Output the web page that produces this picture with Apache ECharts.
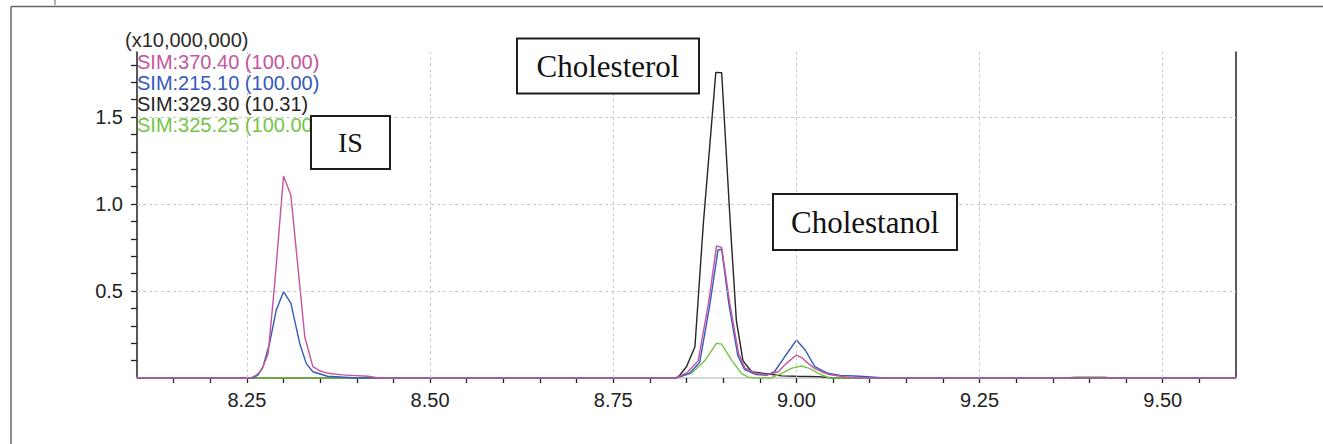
<!DOCTYPE html>
<html>
<head>
<meta charset="utf-8">
<script src="https://cdn.jsdelivr.net/npm/echarts@6/dist/echarts.min.js"></script>
<style>
  html, body { margin: 0; padding: 0; background: #fff; }
  #chart { width: 1323px; height: 444px; }
</style>
</head>
<body>
<div id="chart"></div>
<script>
// retention time (min) and intensity (x10,000,000)
const pinkX = [8.10, 8.255, 8.263, 8.270, 8.279, 8.288, 8.300, 8.310, 8.329, 8.340, 8.350, 8.361, 8.380, 8.415, 8.43,
  8.835, 8.841, 8.852, 8.866, 8.880, 8.891, 8.898, 8.909, 8.921, 8.930, 8.948, 8.962, 8.975, 8.988, 9.000, 9.008, 9.016, 9.025, 9.034, 9.045, 9.06, 9.08, 9.60];
const pinkY = [0, 0, 0.017, 0.046, 0.14, 0.544, 1.161, 1.05, 0.237, 0.065, 0.04, 0.027, 0.018, 0.01, 0,
  0, 0.01, 0.036, 0.10, 0.43, 0.759, 0.751, 0.43, 0.142, 0.056, 0.023, 0.02, 0.036, 0.09, 0.132, 0.115, 0.084, 0.055, 0.036, 0.02, 0.01, 0, 0];

const blueX = [8.10, 8.258, 8.265, 8.272, 8.281, 8.290, 8.300, 8.310, 8.322, 8.331, 8.340, 8.360, 8.40,
  8.835, 8.843, 8.855, 8.868, 8.881, 8.893, 8.898, 8.908, 8.920, 8.929, 8.945, 8.960, 8.970, 8.984, 9.000, 9.012, 9.025, 9.043, 9.060, 9.087, 9.12, 9.60];
const blueY = [0, 0, 0.017, 0.065, 0.20, 0.39, 0.496, 0.43, 0.20, 0.084, 0.036, 0.01, 0,
  0, 0.01, 0.03, 0.09, 0.40, 0.736, 0.74, 0.42, 0.13, 0.05, 0.02, 0.016, 0.036, 0.122, 0.218, 0.161, 0.065, 0.027, 0.015, 0.01, 0, 0];

const blackX = [8.10, 8.836, 8.841, 8.850, 8.8615, 8.873, 8.890, 8.898, 8.910, 8.918, 8.927, 8.939, 8.962, 8.98, 9.00, 9.03, 9.05, 9.60];
const blackY = [0, 0, 0.017, 0.065, 0.18, 0.889, 1.757, 1.755, 0.87, 0.333, 0.10, 0.036, 0.023, 0.012, 0.01, 0.008, 0, 0];

const greenX = [8.10, 8.836, 8.839, 8.857, 8.875, 8.891, 8.898, 8.912, 8.925, 8.934, 8.945,
  8.965, 8.980, 8.993, 9.007, 9.018, 9.030, 9.045, 9.37, 9.38, 9.42, 9.43, 9.60];
const greenY = [0, 0, 0.007, 0.027, 0.10, 0.20, 0.195, 0.10, 0.027, 0.005, 0,
  0, 0.027, 0.055, 0.069, 0.055, 0.027, 0, 0, 0.006, 0.006, 0, 0];

const seriesNames = ['SIM:370.40 (100.00)', 'SIM:215.10 (100.00)', 'SIM:329.30 (10.31)', 'SIM:325.25 (100.00)'];
const seriesColors = ['#c4559e', '#3559bd', '#262626', '#74c446'];
const xGridTicks = [8.25, 8.50, 8.75, 9.00, 9.25, 9.50];
const yGridTicks = [0.5, 1.0, 1.5];
const peakLabels = ['IS', 'Cholesterol', 'Cholestanol'];

const pairs = (xs, ys) => xs.map((x, i) => [x, ys[i]]);

const chart = echarts.init(document.getElementById('chart'), null, { renderer: 'svg' });

const sansFont = '"Liberation Sans", Arial, sans-serif';
const serifFont = '"Liberation Serif", "Times New Roman", serif';

const lineSeries = (name, data, color, extra) => Object.assign({
  name: name,
  type: 'line',
  data: data,
  showSymbol: false,
  symbol: 'none',
  animation: false,
  lineStyle: { color: color, width: 1.4 },
  itemStyle: { color: color },
  clip: false
}, extra || {});

const gridLines = {
  silent: true,
  symbol: 'none',
  animation: false,
  label: { show: false },
  lineStyle: { color: '#c9c9c9', type: [3, 3], width: 1 },
  data: xGridTicks.map(v => ({ xAxis: v })).concat(yGridTicks.map(v => ({ yAxis: v })))
};

// boxed peak name, drawn above the legend text
const labelBox = (text, cx, cy, w, h, size) => [
  { type: 'rect', z: 100, shape: { x: cx - w / 2, y: cy - h / 2, width: w, height: h },
    style: { fill: '#fff', stroke: '#1e1e1e', lineWidth: 2 } },
  { type: 'text', z: 101, x: cx, y: cy,
    style: { text: text, fill: '#111', font: size + 'px ' + serifFont, align: 'center', verticalAlign: 'middle' } }
];

const option = {
  backgroundColor: '#fff',
  grid: { left: 137, top: 52, right: 87, bottom: 66 },
  xAxis: [{
    type: 'value',
    min: 8.10,
    max: 9.60,
    interval: 0.05,
    axisLine: { show: true, lineStyle: { color: '#222', width: 1.5 } },
    axisTick: { show: true, inside: false, length: 5, lineStyle: { color: '#222', width: 1.3 } },
    axisLabel: {
      margin: 12,
      color: '#222',
      fontSize: 20,
      fontFamily: sansFont,
      showMinLabel: false,
      showMaxLabel: false,
      formatter: v => (Math.abs(v * 4 - Math.round(v * 4)) < 1e-6 ? v.toFixed(2) : '')
    },
    splitLine: { show: false }
  }, {
    type: 'value',
    position: 'top',
    min: 8.10,
    max: 9.60,
    axisLine: { show: true, lineStyle: { color: '#d6d6d6', width: 2 } },
    axisTick: { show: false },
    axisLabel: { show: false },
    splitLine: { show: false }
  }],
  yAxis: [{
    type: 'value',
    min: 0,
    max: 1.874,
    interval: 0.1,
    axisLine: { show: true, lineStyle: { color: '#222', width: 1.5 } },
    axisTick: { show: true, inside: false, length: 6, lineStyle: { color: '#222', width: 1.3 } },
    axisLabel: {
      margin: 14,
      color: '#222',
      fontSize: 20,
      fontFamily: sansFont,
      showMinLabel: false,
      showMaxLabel: false,
      formatter: v => (v > 0 && v < 1.8 && Math.abs(v * 2 - Math.round(v * 2)) < 1e-6 ? v.toFixed(1) : '')
    },
    splitLine: { show: false }
  }, {
    type: 'value',
    position: 'right',
    min: 0,
    max: 1.874,
    axisLine: { show: true, lineStyle: { color: '#222', width: 1.5 } },
    axisTick: { show: false },
    axisLabel: { show: false },
    splitLine: { show: false }
  }],
  series: [
    lineSeries(seriesNames[2], pairs(blackX, blackY), seriesColors[2], { markLine: gridLines }),
    lineSeries(seriesNames[3], pairs(greenX, greenY), seriesColors[3]),
    lineSeries(seriesNames[1], pairs(blueX, blueY), seriesColors[1]),
    lineSeries(seriesNames[0], pairs(pinkX, pinkY), seriesColors[0])
  ],
  graphic: [
    // figure frame (cropped at right and bottom)
    { type: 'line', shape: { x1: 11, y1: 6.5, x2: 1323, y2: 6.5 }, style: { stroke: '#666', lineWidth: 1.5 } },
    { type: 'line', shape: { x1: 11, y1: 6.5, x2: 11, y2: 444 }, style: { stroke: '#666', lineWidth: 1.5 } },
    { type: 'line', shape: { x1: 55, y1: 0, x2: 55, y2: 5 }, style: { stroke: '#666', lineWidth: 1 } },
    { type: 'text', left: 125, top: 30,
      style: { text: '(x10,000,000)', fill: '#2a2a2a', font: '20px ' + sansFont } },
    { type: 'text', left: 137, top: 51.5, z: 50,
      style: { text: seriesNames[0], fill: seriesColors[0], font: '20px ' + sansFont } },
    { type: 'text', left: 137, top: 72.5, z: 50,
      style: { text: seriesNames[1], fill: seriesColors[1], font: '20px ' + sansFont } },
    { type: 'text', left: 137, top: 93.5, z: 50,
      style: { text: seriesNames[2], fill: seriesColors[2], font: '20px ' + sansFont } },
    { type: 'text', left: 137, top: 114.5, z: 50,
      style: { text: seriesNames[3], fill: seriesColors[3], font: '20px ' + sansFont } }
  ].concat(
    labelBox(peakLabels[0], 350.5, 142.5, 79, 53, 28),
    labelBox(peakLabels[1], 608, 66, 182, 55, 31),
    labelBox(peakLabels[2], 865, 222, 184, 56, 31)
  )
};

chart.setOption(option);
</script>
</body>
</html>
